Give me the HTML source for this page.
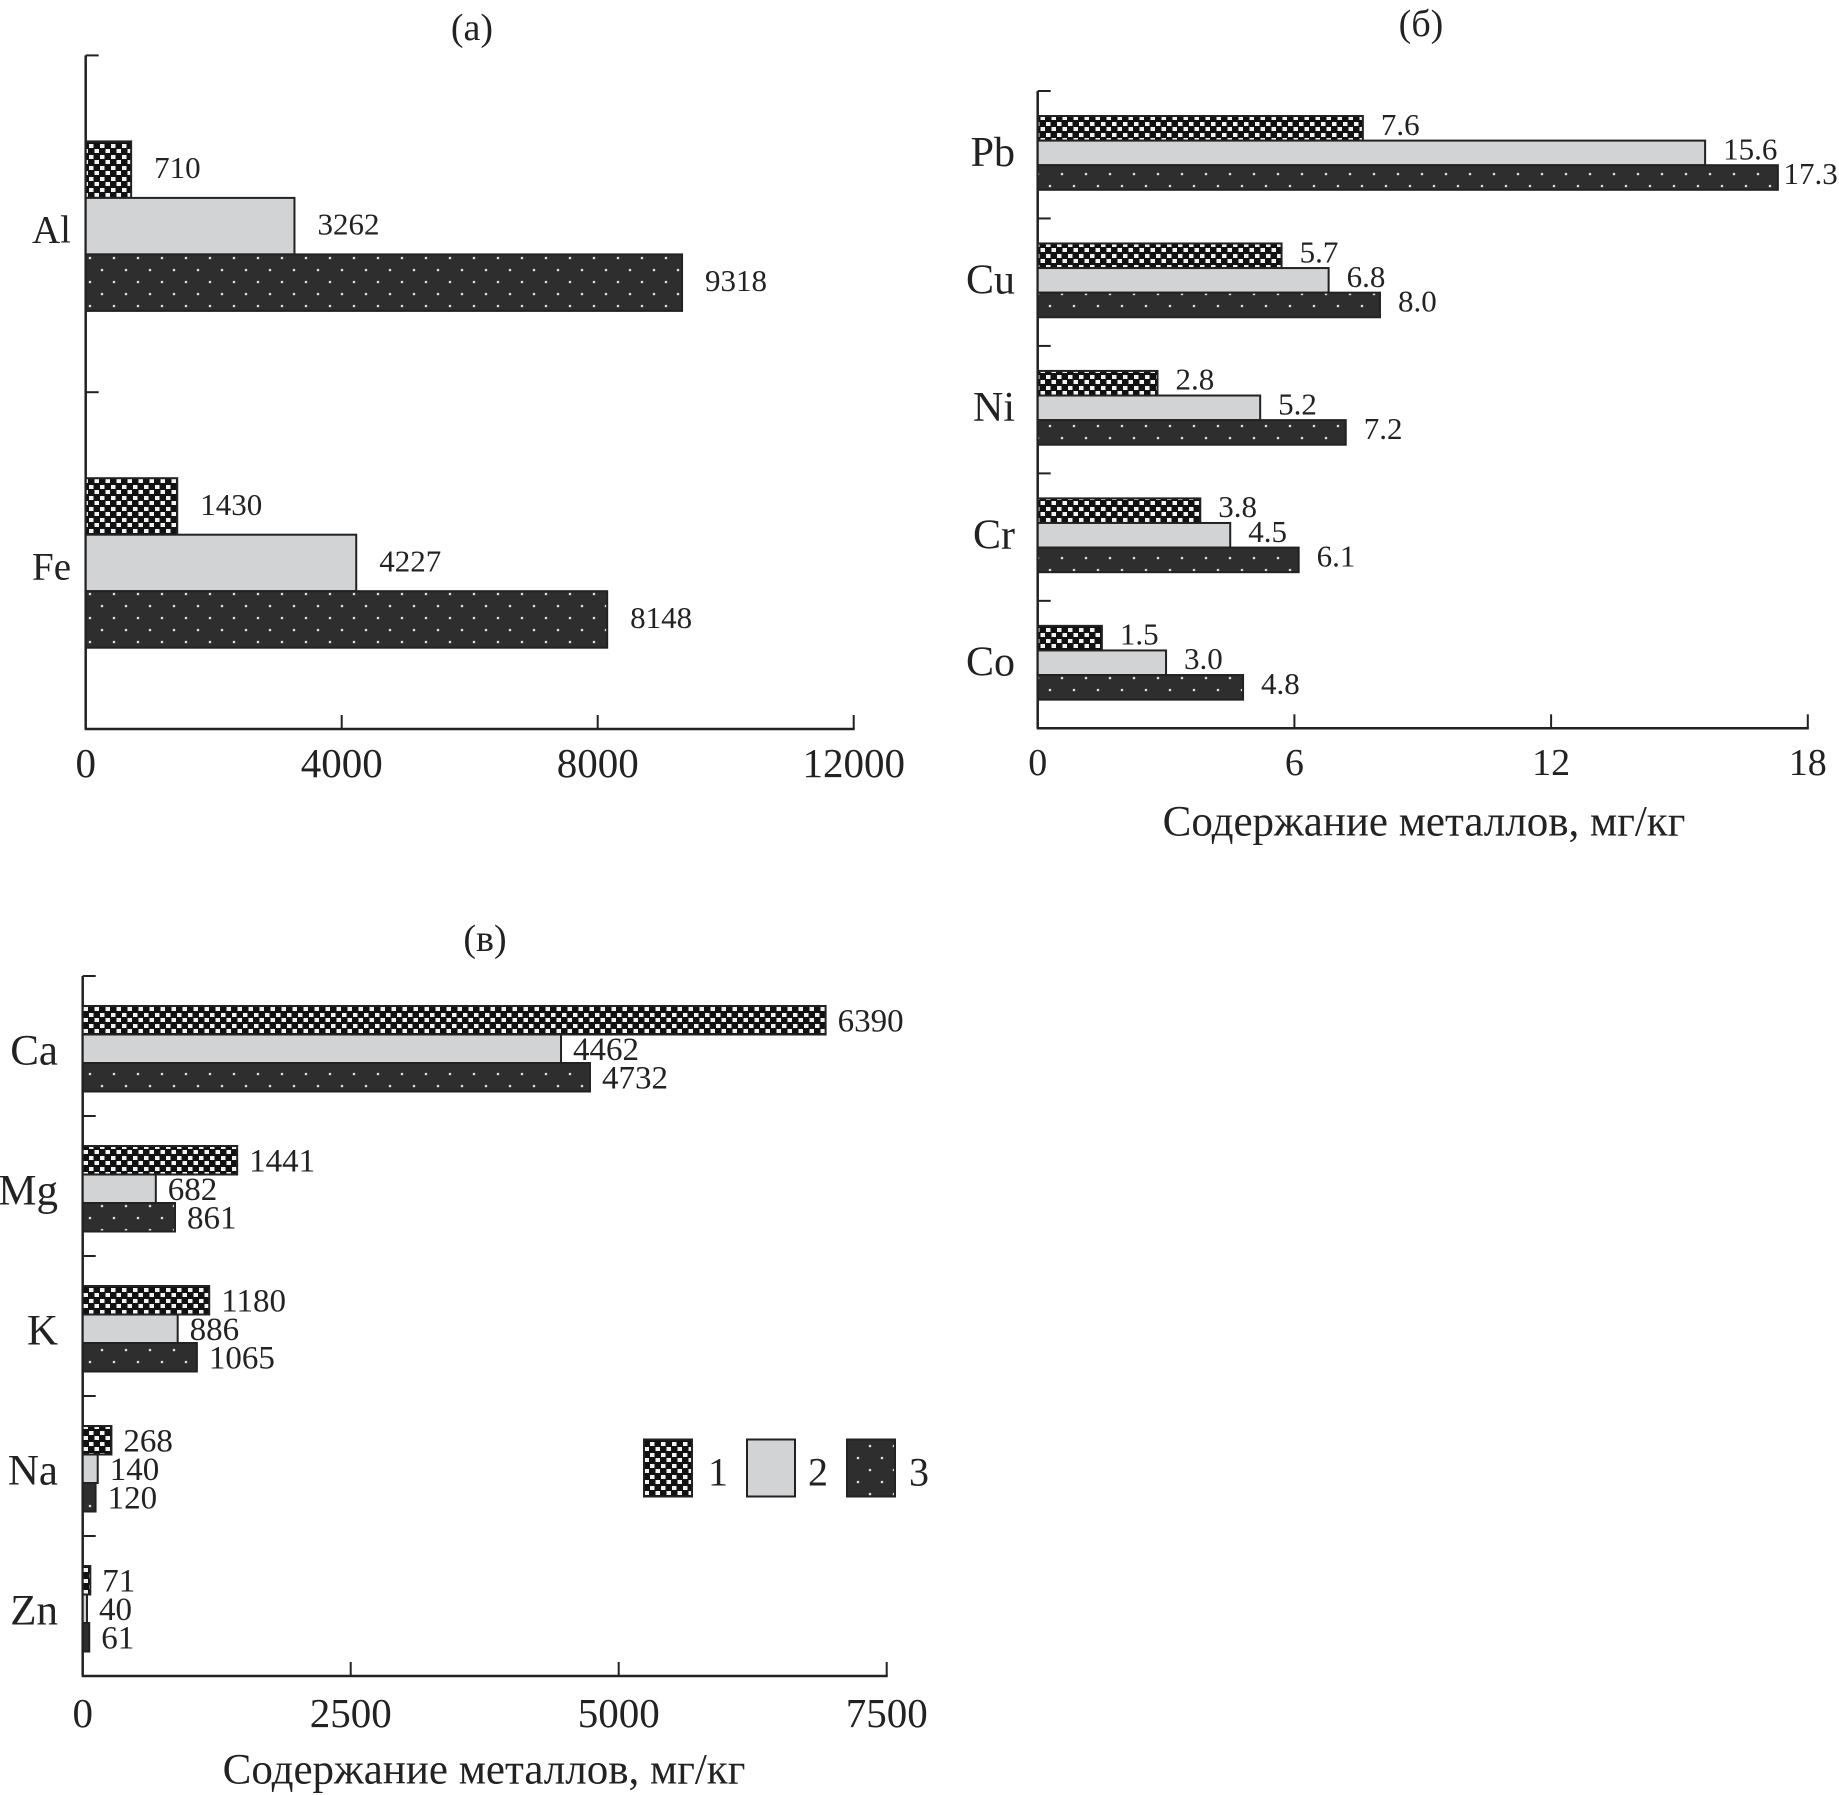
<!DOCTYPE html>
<html><head><meta charset="utf-8"><style>
html,body{margin:0;padding:0;background:#fff;}
svg{display:block;}
text{font-family:"Liberation Serif",serif;fill:#222;}
</style></head><body>
<svg id="fig" width="1839" height="1795" viewBox="0 0 1839 1795" xmlns="http://www.w3.org/2000/svg">
<defs>
<pattern id="p1" width="11" height="11" patternUnits="userSpaceOnUse">
<rect width="11" height="11" fill="#111"/>
<rect x="1" y="1" width="4.5" height="4" fill="#f2f2f2"/>
<rect x="6.5" y="6" width="4.5" height="4" fill="#f2f2f2"/>
</pattern>
<pattern id="p3" width="24" height="24" patternUnits="userSpaceOnUse">
<rect width="24" height="24" fill="#2e2e2e"/>
<circle cx="6" cy="6" r="1.3" fill="#ddd"/>
<circle cx="18" cy="18" r="1.3" fill="#ddd"/>
</pattern>
</defs>
<g id="root"></g>
</svg>
<script>
// Chart (a)
const aCategories = ["Al", "Fe"];
const aSeries1 = [710, 1430];
const aSeries2 = [3262, 4227];
const aSeries3 = [9318, 8148];
const aTicks = [0, 4000, 8000, 12000];
// Chart (б)
const bCategories = ["Pb", "Cu", "Ni", "Cr", "Co"];
const bSeries1 = [7.6, 5.7, 2.8, 3.8, 1.5];
const bSeries2 = [15.6, 6.8, 5.2, 4.5, 3.0];
const bSeries3 = [17.3, 8.0, 7.2, 6.1, 4.8];
const bTicks = [0, 6, 12, 18];
// Chart (в)
const cCategories = ["Ca", "Mg", "K", "Na", "Zn"];
const cSeries1 = [6930, 1441, 1180, 268, 71];
const cSeries2 = [4462, 682, 886, 140, 40];
const cSeries3 = [4732, 861, 1065, 120, 61];
const cLabels1 = ["6390", "1441", "1180", "268", "71"];
const cTicks = [0, 2500, 5000, 7500];

const NS = "http://www.w3.org/2000/svg";
const root = document.getElementById("root");
function mk(tag, attrs, parent) {
  const e = document.createElementNS(NS, tag);
  for (const k in attrs) e.setAttribute(k, attrs[k]);
  (parent || root).appendChild(e);
  return e;
}
function txt(str, x, y, size, anchor, parent) {
  const t = mk("text", {x: x, y: y, "font-size": size, "text-anchor": anchor, "dominant-baseline": "central"}, parent);
  t.textContent = str;
  return t;
}

function drawChart(c) {
  const g = mk("g", {});
  
  
  const xs = v => c.x0 + v * c.ppu;
  const band = (c.yBot - c.yTop) / c.cats.length;
  const ya = mk("line", {x1: c.x0, y1: c.yTop, x2: c.x0, y2: c.yBot, stroke: "#222", "stroke-width": 2.5}, g);
  
  
  const xa = mk("line", {x1: c.x0 - 1, y1: c.yBot, x2: xs(c.ticks[c.ticks.length - 1]) + 1, y2: c.yBot, stroke: "#222", "stroke-width": 2.5}, g);
  
  
  for (let i = 0; i < c.cats.length; i++) {
    const ty = c.yTop + i * band;
    const tk = mk("line", {x1: c.x0, y1: ty, x2: c.x0 + 13, y2: ty, stroke: "#222", "stroke-width": 2}, g);
    
    
  }
  c.ticks.forEach(t => {
    const x = xs(t);
    if (t !== 0) {
      const tk = mk("line", {x1: x, y1: c.yBot, x2: x, y2: c.yBot - 14, stroke: "#222", "stroke-width": 2}, g);
      
      
    }
    const tl = txt(String(t), x, c.tickY, c.tickSize, "middle", g);
    
    
  });
  const fills = ["url(#p1)", "#d2d3d5", "url(#p3)"];
  c.cats.forEach((cat, i) => {
    const gy = c.yTop + i * band + c.off;
    const cl = txt(cat, c.catX, gy + 1.5 * c.barH + c.catDy, c.catSize, "end", g);
    
    
    c.series.forEach((s, k) => {
      const y = gy + k * c.barH;
      const w = xs(s[i]) - c.x0;
      const r = mk("rect", {x: c.x0, y: y, width: Math.max(w, 2), height: c.barH, fill: fills[k], stroke: "#222", "stroke-width": 2}, g);
      
      
      const lab = c.labels[k][i];
      const lx = Math.min(xs(s[i]) + c.gap, 1838 - lab.length * c.valSize * 0.44);
      const vl = txt(lab, lx, y + c.barH / 2 + c.labDy, c.valSize, "start", g);
      
      
    });
  });
  return g;
}

drawChart({name: "chart-a", cats: aCategories, series: [aSeries1, aSeries2, aSeries3],
  labels: [aSeries1.map(String), aSeries2.map(String), aSeries3.map(String)],
  ticks: aTicks, x0: 85.7, ppu: 256 / 4000, yTop: 55.4, yBot: 729, off: 86, barH: 56.5,
  gap: 23, labDy: -2, valSize: 31, tickY: 763, tickSize: 41, catX: 71, catDy: 4, catSize: 39});
drawChart({name: "chart-b", cats: bCategories, series: [bSeries1, bSeries2, bSeries3],
  labels: [bSeries1.map(v => v.toFixed(1)), bSeries2.map(v => v.toFixed(1)), bSeries3.map(v => v.toFixed(1))],
  ticks: bTicks, x0: 1037.7, ppu: 256.7 / 6, yTop: 91, yBot: 728.3, off: 25, barH: 24.6,
  gap: 18, labDy: -4, valSize: 31, tickY: 763, tickSize: 38, catX: 1015, catDy: 0, catSize: 42});
drawChart({name: "chart-c", cats: cCategories, series: [cSeries1, cSeries2, cSeries3],
  labels: [cLabels1, cSeries2.map(String), cSeries3.map(String)],
  ticks: cTicks, x0: 82.7, ppu: 268 / 2500, yTop: 976, yBot: 1676, off: 30, barH: 28.5,
  gap: 12, labDy: 1, valSize: 33, tickY: 1713, tickSize: 41, catX: 58, catDy: 2, catSize: 43});

let t;
t = txt("(a)", 472, 28, 38, "middle");


t = txt("(б)", 1421, 24, 38, "middle");


t = txt("(в)", 485, 939, 38, "middle");


t = txt("Содержание металлов, мг/кг", 1424, 822, 43, "middle");


t = txt("Содержание металлов, мг/кг", 484, 1770, 43, "middle");



const legFills = ["url(#p1)", "#d2d3d5", "url(#p3)"];
const legBoxX = [644, 747, 847];
const legLabX = [718, 818, 919];
const legNames = ["1", "2", "3"];
legNames.forEach((n, i) => {
  const r = mk("rect", {x: legBoxX[i], y: 1439.5, width: 48, height: 57, fill: legFills[i], stroke: "#222", "stroke-width": 2});
  
  
  const l = txt(n, legLabX[i], 1472, 40, "middle");
  
  
});
</script>
</body></html>
